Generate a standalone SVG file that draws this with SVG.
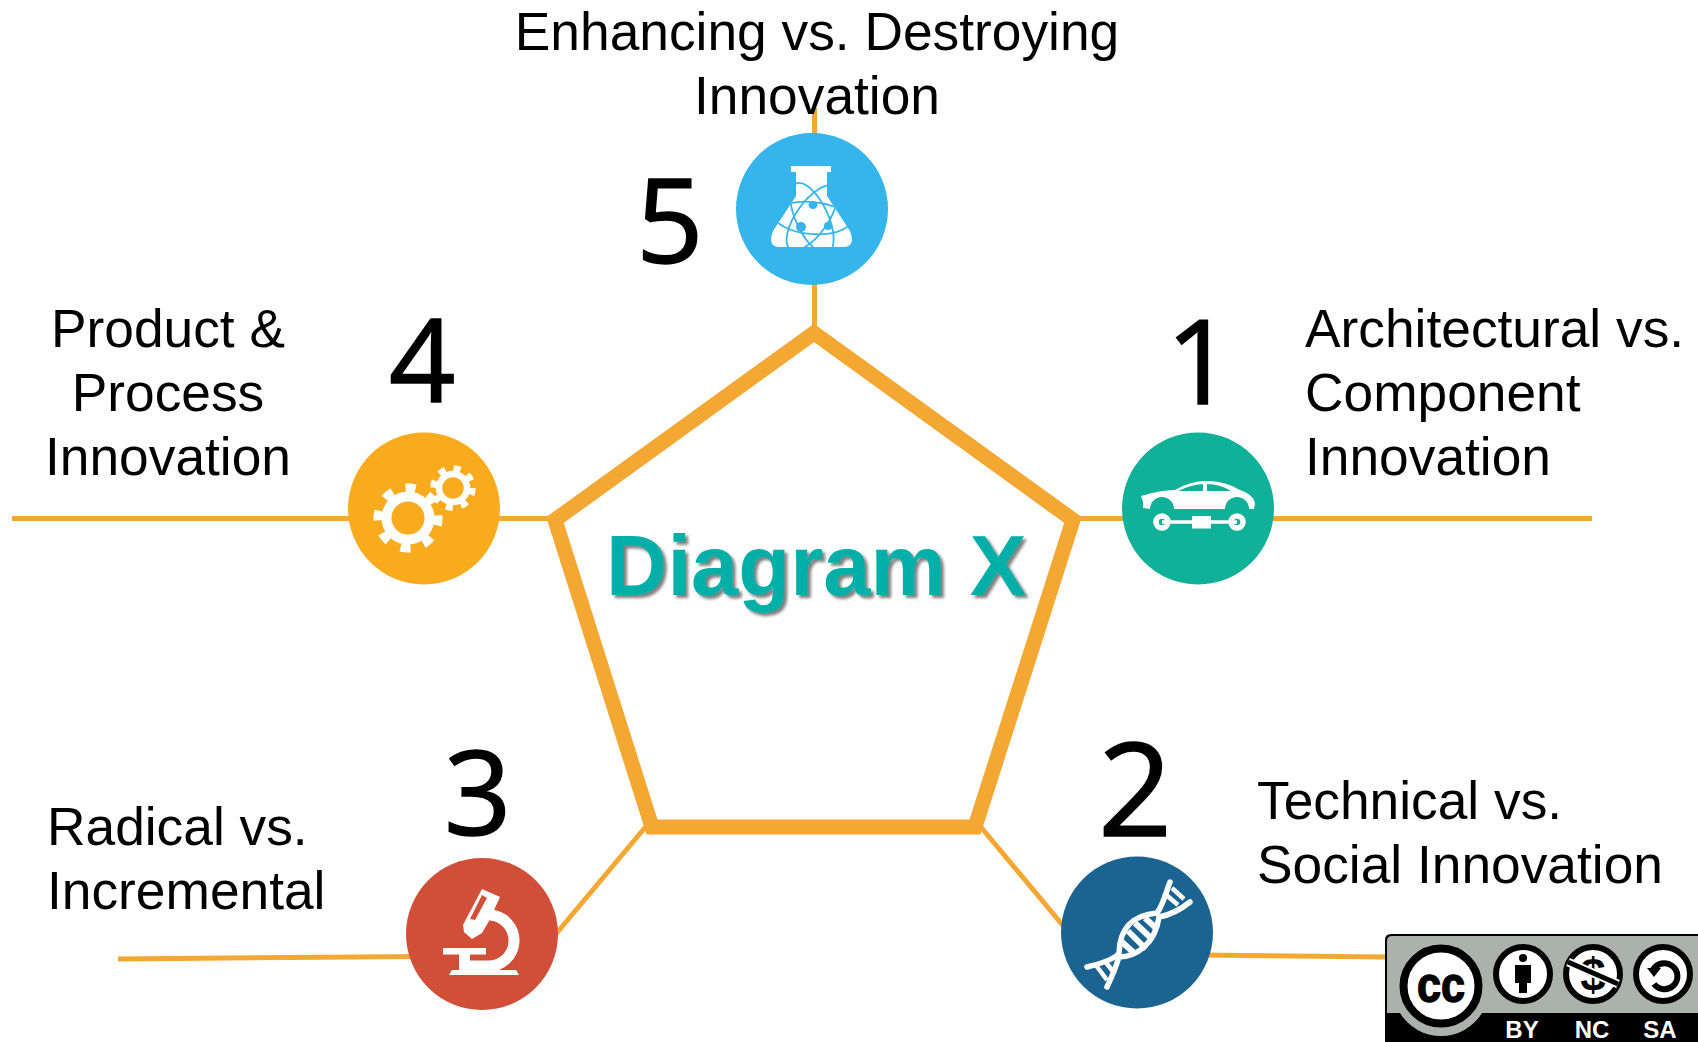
<svg xmlns="http://www.w3.org/2000/svg" width="1698" height="1042" viewBox="0 0 1698 1042">
<style>
.lbl{font-family:"Liberation Sans",Arial,sans-serif;font-size:53.300px;fill:#000}
.num{font-family:"Open Sans","DejaVu Sans",sans-serif;font-size:118px;fill:#000;stroke:#000;stroke-width:1.500px}
.mid{text-anchor:middle}
.con{stroke:#F5A733;stroke-width:5;fill:none}
.ic{fill:#fff}
.tag{font-family:"Liberation Sans",Arial,sans-serif;font-weight:700;font-size:24px;fill:#fff;text-anchor:middle}
</style>
<defs>
<filter id="sh" x="-5%" y="-10%" width="115%" height="130%"><feDropShadow dx="3" dy="3" stdDeviation="1.8" flood-color="#555" flood-opacity=".75"/></filter>
<clipPath id="flask"><path d="M791 166H831V172H827V196L850 231Q856 247 843 247H780Q767 247 773 231L796 196V172H791Z"/></clipPath>
</defs>
<rect width="1698" height="1042" fill="#fff"/>
<g id="connectors">
<path class="con" d="M814.500 108V326M12 518.500H556M1072 518.500H1592M118 959L420 956.500M550 941L648 824M980 826L1070 934M1200 955L1385 957"/>
<path d="M814 333L1073 520L975 827H652L555 520Z" fill="none" stroke="#F5A733" stroke-width="15" stroke-linejoin="miter"/>
</g>
<g id="center"><text x="606" y="595" font-family="'Liberation Sans',Arial,sans-serif" font-weight="700" font-size="85" fill="#00B0A8" filter="url(#sh)">Diagram X</text></g>
<g id="node-5">
<circle cx="812" cy="209" r="76" fill="#35B5EB"/>
<path class="ic" d="M791 166H831V172H827V196L850 231Q856 247 843 247H780Q767 247 773 231L796 196V172H791Z"/>
<g clip-path="url(#flask)" fill="none" stroke="#35B5EB" stroke-width="1.800"><ellipse cx="812" cy="218" rx="38" ry="16" transform="rotate(5 812 218)"/><ellipse cx="812" cy="218" rx="38" ry="16" transform="rotate(-55 812 218)"/><ellipse cx="812" cy="218" rx="38" ry="16" transform="rotate(65 812 218)"/></g>
<g fill="#35B5EB"><ellipse cx="813" cy="205" rx="4.500" ry="4"/><circle cx="801" cy="227" r="5"/><circle cx="828" cy="226" r="4"/></g>
<text class="num" x="636" y="263">5</text>
<text class="lbl mid" x="817" y="50">Enhancing vs. Destroying</text><text class="lbl mid" x="817" y="114">Innovation</text>
</g>
<g id="node-1">
<circle cx="1198" cy="508.500" r="76" fill="#11B098"/>
<path class="ic" d="M1141 496Q1160 490 1175 490Q1190 481 1207 481Q1225 481 1240 490Q1253 494 1255 503L1254 509H1249A12 12 0 0 0 1225 509H1174A12 12 0 0 0 1150 509L1143 508Q1144 502 1141 496Z"/>
<path d="M1178 491Q1190 485 1203 484V491ZM1207 484Q1220 484 1231 491H1207Z" fill="#11B098"/>
<path d="M1162 522H1237" stroke="#fff" stroke-width="3.500"/><rect class="ic" x="1192" y="516" width="19" height="12.500"/>
<circle cx="1162" cy="522" r="6" fill="none" stroke="#fff" stroke-width="5.500"/><circle cx="1237" cy="522" r="6" fill="none" stroke="#fff" stroke-width="5.500"/>
<text class="num" x="1166" y="404">1</text>
<text class="lbl" x="1305" y="347">Architectural vs.</text><text class="lbl" x="1305" y="411">Component</text><text class="lbl" x="1305" y="475">Innovation</text>
</g>
<g id="node-2">
<circle cx="1137" cy="932.500" r="76" fill="#1B6491"/>
<g fill="none" stroke="#fff" stroke-width="5.500" stroke-linecap="round"><path d="M1087 967Q1115 960 1119 953C1120 925 1135 915 1157 913C1163 905 1165 895 1170 882"/><path d="M1107 987Q1115 970 1119 957C1135 957 1155 945 1159 917C1170 915 1180 910 1190 902"/></g>
<g stroke="#fff" stroke-width="6" fill="none"><path d="M1122 942L1134 953M1128 931L1146 949M1135 923L1153 940M1145 918L1156 928"/><path d="M1095 964L1107 980M1104 960L1115 974" stroke-width="4.500"/><path d="M1164 893L1178 905M1172 888L1184 899" stroke-width="4.500"/></g>
<text class="num" x="1098" y="836" style="font-size:130px">2</text>
<text class="lbl" x="1257" y="819">Technical vs.</text><text class="lbl" x="1257" y="883">Social Innovation</text>
</g>
<g id="node-3">
<circle cx="482" cy="934" r="76" fill="#D14F38"/>
<path class="ic" d="M482 889L500 897L489 921L482 933L472 939L464 932L463 925Z"/>
<path d="M482 895L487 898L475 920L470 919Z" fill="#D14F38"/>
<rect class="ic" x="443" y="948" width="43" height="6.500"/><rect class="ic" x="459" y="954" width="11" height="17"/><path class="ic" d="M452 970H516L519 975H449Z"/>
<path d="M490 915A25 25 0 0 1 487 966L468 966" fill="none" stroke="#fff" stroke-width="11"/>
<text class="num" x="444" y="835">3</text>
<text class="lbl" x="47" y="845">Radical vs.</text><text class="lbl" x="47" y="909">Incremental</text>
</g>
<g id="node-4">
<circle cx="424" cy="508.500" r="76" fill="#FAAB1D"/>
<g fill="none" stroke="#fff"><circle cx="408" cy="518" r="21.500" stroke-width="10"/><circle cx="408" cy="518" r="30" stroke-width="9" stroke-dasharray="10 13.560" transform="rotate(-5 408 518)"/><circle cx="453" cy="488" r="14" stroke-width="6.500"/><circle cx="453" cy="488" r="19.500" stroke-width="6.500" stroke-dasharray="7 8.310"/></g>
<text class="num" x="389" y="402" style="font-size:116px">4</text>
<text class="lbl mid" x="168" y="347">Product &amp;</text><text class="lbl mid" x="168" y="411">Process</text><text class="lbl mid" x="168" y="475">Innovation</text>
</g>
<g id="license">
<path d="M1385 1042V940Q1385 934 1391 934H1698V1042Z" fill="#000"/>
<path d="M1387 1013V941Q1387 936 1392 936H1698V1013Z" fill="#AAB2AB"/>
<path d="M1400 1013A48 48 0 0 0 1482 1013Z" fill="#AAB2AB"/>
<circle cx="1441" cy="986" r="37.500" fill="#fff" stroke="#000" stroke-width="8"/>
<text x="1441" y="1002" font-family="'Liberation Sans',Arial,sans-serif" font-weight="700" font-size="50" text-anchor="middle" fill="#000" stroke="#000" stroke-width="1.500" textLength="48" lengthAdjust="spacingAndGlyphs">cc</text>
<circle cx="1523" cy="974" r="27" fill="#fff" stroke="#000" stroke-width="6"/>
<circle cx="1523" cy="958" r="4" fill="#000"/><path d="M1515 965H1531V983H1527V993H1519V983H1515Z" fill="#000"/>
<circle cx="1593" cy="974" r="27" fill="#fff" stroke="#000" stroke-width="6"/>
<text x="1593" y="991" font-family="'Liberation Sans',Arial,sans-serif" font-weight="700" font-size="46" text-anchor="middle" fill="#000">$</text>
<path d="M1568 962L1618 984" stroke="#fff" stroke-width="9"/><path d="M1568 962L1618 984" stroke="#000" stroke-width="5"/>
<circle cx="1663" cy="974" r="27" fill="#fff" stroke="#000" stroke-width="6"/>
<path d="M1653 970A13 13 0 1 1 1654 984" fill="none" stroke="#000" stroke-width="6"/><path d="M1647 968H1661L1654 977Z" fill="#000"/>
<text class="tag" x="1522" y="1038">BY</text><text class="tag" x="1592" y="1038">NC</text><text class="tag" x="1660" y="1038">SA</text>
</g>
</svg>
